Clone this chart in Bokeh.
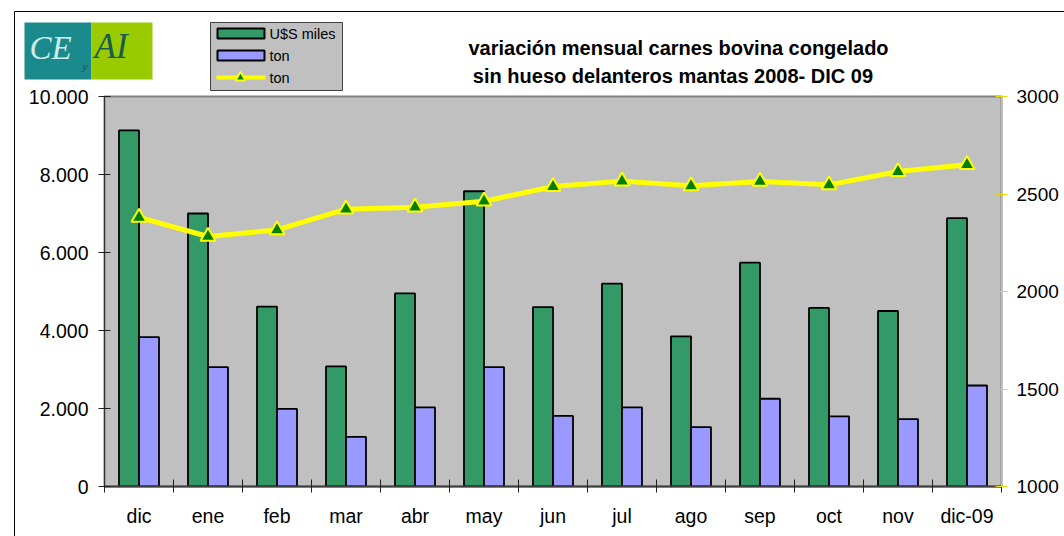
from bokeh.plotting import figure
from bokeh.models import ColumnDataSource, Range1d, LinearAxis, FixedTicker, Label
from bokeh.transform import dodge
from bokeh.embed import file_html
from bokeh.resources import INLINE

months = ["dic", "ene", "feb", "mar", "abr", "may", "jun", "jul", "ago", "sep", "oct", "nov", "dic-09"]
usd_miles = [9130, 7000, 4610, 3080, 4950, 7570, 4600, 5200, 3850, 5740, 4580, 4500, 6880]
ton_bars = [3830, 3060, 1990, 1270, 2030, 3060, 1810, 2030, 1520, 2250, 1800, 1730, 2590]
ton_line = [2380, 2282, 2316, 2422, 2432, 2463, 2538, 2566, 2542, 2564, 2547, 2615, 2650]
left_ticks = [0, 2000, 4000, 6000, 8000, 10000]
left_tick_labels = ["0", "2.000", "4.000", "6.000", "8.000", "10.000"]
right_ticks = [1000, 1500, 2000, 2500, 3000]
series_names = ["U$S miles", "ton", "ton"]
title_lines = ["variación mensual carnes bovina congelado", "sin hueso delanteros mantas 2008-  DIC  09"]

FONT = "Liberation Sans"
W, H = 1064, 536
GREEN, LAV, YEL, MARK = "#339966", "#9999FF", "#FFFF00", "#008000"

idx = list(range(len(months)))
src = ColumnDataSource(dict(x=idx, usd=usd_miles, tonb=ton_bars, tonl=ton_line))

# ---------------- main chart ----------------
p = figure(width=W, height=H, output_backend="svg", toolbar_location=None, title_location=None,
           x_range=Range1d(-0.5, len(months) - 0.5), y_range=Range1d(0, 10000),
           min_border_left=104, min_border_top=96, min_border_right=63, min_border_bottom=50)
p.extra_y_ranges = {"right": Range1d(1000, 3000)}
p.background_fill_color = "#C0C0C0"
p.border_fill_color = "white"
p.outline_line_color = "#808080"
p.outline_line_width = 2
p.xgrid.visible = False
p.ygrid.visible = False

xa = p.xaxis[0]
xa.ticker = FixedTicker(ticks=idx, minor_ticks=[i - 0.5 for i in range(len(months) + 1)])
xa.major_label_overrides = {i: m for i, m in enumerate(months)}
xa.major_tick_line_color = None
xa.minor_tick_line_color = "#202020"
xa.minor_tick_in = 7
xa.minor_tick_out = 6
xa.major_label_standoff = 12
xa.major_label_text_font = FONT
xa.major_label_text_font_size = "19.5px"
xa.major_label_text_color = "black"
xa.axis_line_color = "#404040"
xa.axis_line_width = 2

ya = p.yaxis[0]
ya.ticker = FixedTicker(ticks=left_ticks, minor_ticks=[])
ya.major_label_overrides = {t: s for t, s in zip(left_ticks, left_tick_labels)}
ya.major_tick_in = 6
ya.major_tick_out = 6
ya.major_tick_line_color = "#202020"
ya.minor_tick_line_color = None
ya.major_label_standoff = 10
ya.major_label_text_font = FONT
ya.major_label_text_font_size = "19.5px"
ya.major_label_text_color = "black"
ya.axis_line_color = "#303030"

ra = LinearAxis(y_range_name="right", ticker=FixedTicker(ticks=right_ticks, minor_ticks=[]))
ra.axis_line_color = "#D8D800"
ra.major_tick_line_color = "#E0E000"
ra.minor_tick_line_color = None
ra.major_tick_in = 6
ra.major_tick_out = 6
ra.major_label_standoff = 9
ra.major_label_text_font = FONT
ra.major_label_text_font_size = "19px"
ra.major_label_text_color = "black"
p.add_layout(ra, "right")

p.vbar(x=dodge("x", -0.145, range=p.x_range), top="usd", width=0.29, source=src,
       fill_color=GREEN, line_color="black", line_width=1.8)
p.vbar(x=dodge("x", 0.145, range=p.x_range), top="tonb", width=0.29, source=src,
       fill_color=LAV, line_color="black", line_width=1.8)
p.line(x="x", y="tonl", source=src, y_range_name="right", line_color=YEL, line_width=5)
p.scatter(x="x", y="tonl", source=src, y_range_name="right", marker="triangle", size=15,
          fill_color=MARK, line_color=YEL, line_width=2)

# ---------------- overlay: logo, legend, title, chart border ----------------
o = figure(width=W, height=H, output_backend="svg", toolbar_location=None, title_location=None,
           x_range=Range1d(0, W), y_range=Range1d(H, 0), x_axis_location=None, y_axis_location=None,
           min_border=0, min_border_left=0, min_border_right=0, min_border_top=0, min_border_bottom=0)
o.background_fill_color = None
o.border_fill_color = None
o.outline_line_color = None
o.xgrid.visible = False
o.ygrid.visible = False
o.styles = {"position": "absolute", "top": "0px", "left": "0px"}

# chart-area border
o.line(x=[14, 14, W + 5], y=[H + 5, 11, 11], line_color="black", line_width=1)

# logo
o.quad(left=[24], right=[91], top=[22], bottom=[79], fill_color="#1A8A8C", line_color=None)
o.quad(left=[91], right=[152], top=[22], bottom=[79], fill_color="#99CC00", line_color=None)
o.add_layout(Label(x=29, y=65, text="CE", text_font="Liberation Serif", text_font_style="italic",
                   text_font_size="33px", text_color="#CDEBEB"))
o.add_layout(Label(x=82, y=71, text="y", text_font="Liberation Serif", text_font_style="italic",
                   text_font_size="11px", text_color="#1F4F45"))
o.add_layout(Label(x=94, y=65, text="AI", text_font="Liberation Serif", text_font_style="italic",
                   text_font_size="35px", text_color="#1D5A4E"))

# title
for i, t in enumerate(title_lines):
    o.add_layout(Label(x=678, y=47 + 28 * i, text=t, text_align="center", text_baseline="alphabetic",
                       text_font=FONT, text_font_style="bold", text_font_size="20px",
                       text_color="black"))

# legend box, drawn as plain glyphs in page pixels
o.quad(left=[210], right=[342], top=[22], bottom=[90], fill_color="#C0C0C0",
       line_color="#404040", line_width=1)
row_y = [33, 55, 77]
o.quad(left=[217], right=[264], top=[row_y[0] - 5], bottom=[row_y[0] + 5],
       fill_color=GREEN, line_color="black", line_width=2)
o.quad(left=[217], right=[264], top=[row_y[1] - 5], bottom=[row_y[1] + 5],
       fill_color=LAV, line_color="black", line_width=2)
o.line(x=[216, 265], y=[row_y[2], row_y[2]], line_color=YEL, line_width=4)
o.scatter(x=[240], y=[row_y[2]], marker="triangle", size=10, fill_color=MARK, line_color=YEL,
          line_width=2)
for name, yy in zip(series_names, row_y):
    o.add_layout(Label(x=269, y=yy, text=name, text_baseline="middle", text_font=FONT,
                       text_font_size="14.5px", text_color="black"))

open("out.html", "w").write(file_html([p, o], INLINE))
